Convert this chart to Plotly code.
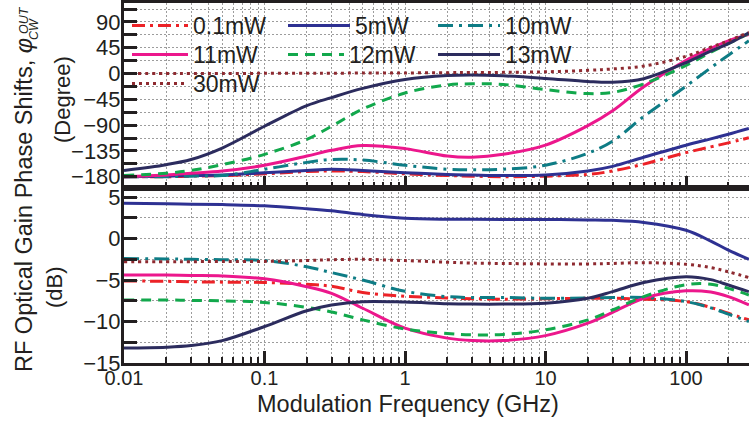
import plotly.graph_objects as go

# Modulation frequency sample points (GHz)
freq_ghz = [0.01, 0.02, 0.03, 0.05, 0.1, 0.2, 0.3, 0.5, 1, 2, 3, 5,
            10, 20, 30, 50, 100, 150, 200, 280]

# Pump power of each trace
power_labels = ["0.1mW", "5mW", "10mW", "11mW", "12mW", "13mW", "30mW"]

# Phase shift of the CW output (degree)
phase_01mW = [-180, -180, -179, -178, -175, -171, -170, -171, -175, -178,
              -179, -180, -179, -176, -170, -158, -138, -128, -121, -112]
phase_5mW = [-180, -179, -178, -177, -173, -169, -167, -169, -173, -176,
             -177, -178, -177, -170, -162, -146, -125, -114, -106, -96]
phase_10mW = [-180, -180, -179, -178, -167, -155, -150, -151, -160, -167,
              -168, -167, -160, -139, -118, -75, -22, 10, 32, 57]
phase_11mW = [-180, -177, -174, -170, -160, -144, -134, -125.5, -131, -144,
              -146, -141, -125, -91, -65, -23, 23, 44, 57, 68]
phase_12mW = [-178, -174, -169, -159, -141, -115, -92, -62, -34, -20,
              -18, -19, -28, -35, -33, -18, 14, 37, 52, 70]
phase_13mW = [-169, -159, -150, -130, -92, -56, -42, -26, -10.5, -3.5,
              -2.5, -4, -8.5, -14, -15.3, -9, 19, 39, 52, 71]
phase_30mW = [0, 0, 0, 0, 0.3, 0.5, 0.6, 0.8, 1, 1.5,
              1.8, 2, 3, 5.5, 8, 13, 30, 46, 57, 72]

# RF optical gain (dB)
gain_01mW = [-5.1, -5.15, -5.2, -5.25, -5.3, -5.5, -5.75, -6.5, -6.95, -7.15,
             -7.25, -7.3, -7.25, -7.2, -7.2, -7.3, -7.6, -8.3, -9.0, -9.8]
gain_5mW = [4.25, 4.2, 4.15, 4.1, 3.95, 3.6, 3.35, 2.9, 2.45, 2.33,
            2.32, 2.3, 2.3, 2.25, 2.2, 1.95, 1.0, -0.3, -1.4, -2.5]
gain_10mW = [-2.4, -2.45, -2.5, -2.55, -2.65, -3.4, -4.1, -5.0, -6.35, -7.0,
             -7.1, -7.1, -7.2, -7.15, -7.1, -7.1, -7.6, -8.35, -9.1, -10.0]
gain_11mW = [-4.4, -4.4, -4.45, -4.5, -4.85, -5.8, -6.6, -8.4, -10.8, -12.0,
             -12.3, -12.3, -11.7, -10.2, -8.9, -7.2, -6.3, -6.45, -7.0, -8.0]
gain_12mW = [-7.4, -7.4, -7.45, -7.5, -7.7, -8.3, -8.85, -9.8, -10.9, -11.45,
             -11.6, -11.55, -11.0, -9.8, -8.6, -7.0, -5.55, -5.5, -6.0, -6.8]
gain_13mW = [-13.2, -13.1, -12.9, -12.3, -10.6, -8.7, -8.0, -7.6, -7.65, -7.85,
             -7.9, -7.9, -7.8, -7.2, -6.4, -5.3, -4.6, -4.95, -5.6, -6.4]
gain_30mW = [-2.8, -2.8, -2.78, -2.77, -2.75, -2.65, -2.55, -2.5, -2.65, -2.85,
             -2.95, -3.0, -3.05, -3.05, -3.0, -2.9, -3.1, -3.5, -4.0, -4.7]

phase_series = [phase_01mW, phase_5mW, phase_10mW, phase_11mW,
                phase_12mW, phase_13mW, phase_30mW]
gain_series = [gain_01mW, gain_5mW, gain_10mW, gain_11mW,
               gain_12mW, gain_13mW, gain_30mW]

colors = ["#ec2227", "#2e3192", "#0e7c85", "#ec178c", "#12a84c", "#2c2c5e", "#8e2a30"]
dashes = ["13px,5px,3px,5px", "solid", "15px,6px,3px,6px", "solid",
          "10px,7px", "solid", "3px,4px"]

INK = "#231f20"
FONT = "Liberation Sans, Arial, sans-serif"

# Legend grid: each entry gets its own legend box (column x, row, symbol width)
legend_slots = [(132, 0, 56), (288, 0, 62), (438, 0, 62),
                (132, 1, 56), (288, 1, 56), (438, 1, 62),
                (132, 2, 56)]
legend_names = ["legend"] + ["legend%d" % i for i in range(2, 8)]

fig = go.Figure()
for name, ph, gn, col, dsh, lg in zip(power_labels, phase_series, gain_series,
                                       colors, dashes, legend_names):
    line = dict(color=col, width=3, dash=dsh, shape="spline", smoothing=1.0)
    fig.add_trace(go.Scatter(x=freq_ghz, y=ph, mode="lines", name=name, line=line,
                             xaxis="x2", yaxis="y2", legend=lg, showlegend=True))
    fig.add_trace(go.Scatter(x=freq_ghz, y=gn, mode="lines", name=name, line=line,
                             xaxis="x", yaxis="y", showlegend=False))

split = 175 / 360.0

grid = dict(showgrid=True, gridcolor="#9c9c9c", gridwidth=1, griddash="2px,2px")

xcommon = dict(type="log", range=[-2, 2.448], dtick=1, showline=True,
               linecolor=INK, linewidth=3, mirror=True, ticks="inside",
               ticklen=12, tickwidth=2.5, tickcolor=INK, zeroline=False,
               minor=dict(dtick="D1", ticks="inside", ticklen=6, tickwidth=2,
                          tickcolor=INK, **grid),
               **grid)

ycommon = dict(showline=True, linecolor=INK, linewidth=3, ticks="inside",
               ticklen=13, tickwidth=3, tickcolor=INK, zeroline=False,
               tickfont=dict(size=22), ticklabelstandoff=-4, **grid)

fig.update_layout(
    width=749, height=424,
    margin=dict(l=124, r=0, t=3, b=61),
    paper_bgcolor="white", plot_bgcolor="white",
    font=dict(family=FONT, color=INK, size=20),
    xaxis=dict(anchor="y", domain=[0, 1],
               tickfont=dict(size=20), tickvals=[0.01, 0.1, 1, 10, 100],
               ticktext=["0.01", "0.1", "1", "10", "100"],
               ticklabelstandoff=-5, **xcommon),
    xaxis2=dict(anchor="y2", domain=[0, 1], matches="x", showticklabels=False,
                **xcommon),
    yaxis=dict(domain=[0, split], range=[-15, 6.1], dtick=5, tick0=0,
               minor=dict(dtick=2.5, ticks="inside", ticklen=13, tickwidth=3,
                          tickcolor=INK, **grid),
               **ycommon),
    yaxis2=dict(domain=[split, 1], range=[-199.7, 123], dtick=45, tick0=0,
                minor=dict(dtick=22.5, ticks="inside", ticklen=13, tickwidth=3,
                           tickcolor=INK, **grid),
                **ycommon),
)

W, H = 625.0, 360.0
def px_x(px):
    return (px - 124) / W
def px_y(py):
    return (363 - py) / H

legends = {}
for lg, (sx, row, iw) in zip(legend_names, legend_slots):
    legends[lg] = dict(bgcolor="rgba(0,0,0,0)", borderwidth=0, itemwidth=iw,
                       font=dict(size=23, family=FONT, color=INK),
                       xanchor="left", yanchor="top", orientation="v",
                       itemclick=False,
                       x=px_x(sx - 5), y=px_y(4 + 29 * row))
fig.update_layout(**legends)

annotations = [
    dict(text="RF Optical Gain Phase Shifts, <i>φ</i>",
         x=px_x(24), y=px_y(205), textangle=-90, font=dict(size=23.5)),
    dict(text="<i>OUT</i>", x=px_x(24), y=px_y(20), textangle=-90,
         font=dict(size=12.5)),
    dict(text="<i>CW</i>", x=px_x(34), y=px_y(29), textangle=-90,
         font=dict(size=12.5)),
    dict(text="(Degree)", x=px_x(62), y=px_y(100), textangle=-90,
         font=dict(size=22)),
    dict(text="(dB)", x=px_x(54), y=px_y(287), textangle=-90,
         font=dict(size=22)),
    dict(text="Modulation Frequency (GHz)", x=px_x(408), y=px_y(404),
         font=dict(size=23.5)),
]
for a in annotations:
    a.update(xref="paper", yref="paper", showarrow=False,
             xanchor="center", yanchor="middle")
fig.update_layout(annotations=annotations)

fig.write_html("out.html")
